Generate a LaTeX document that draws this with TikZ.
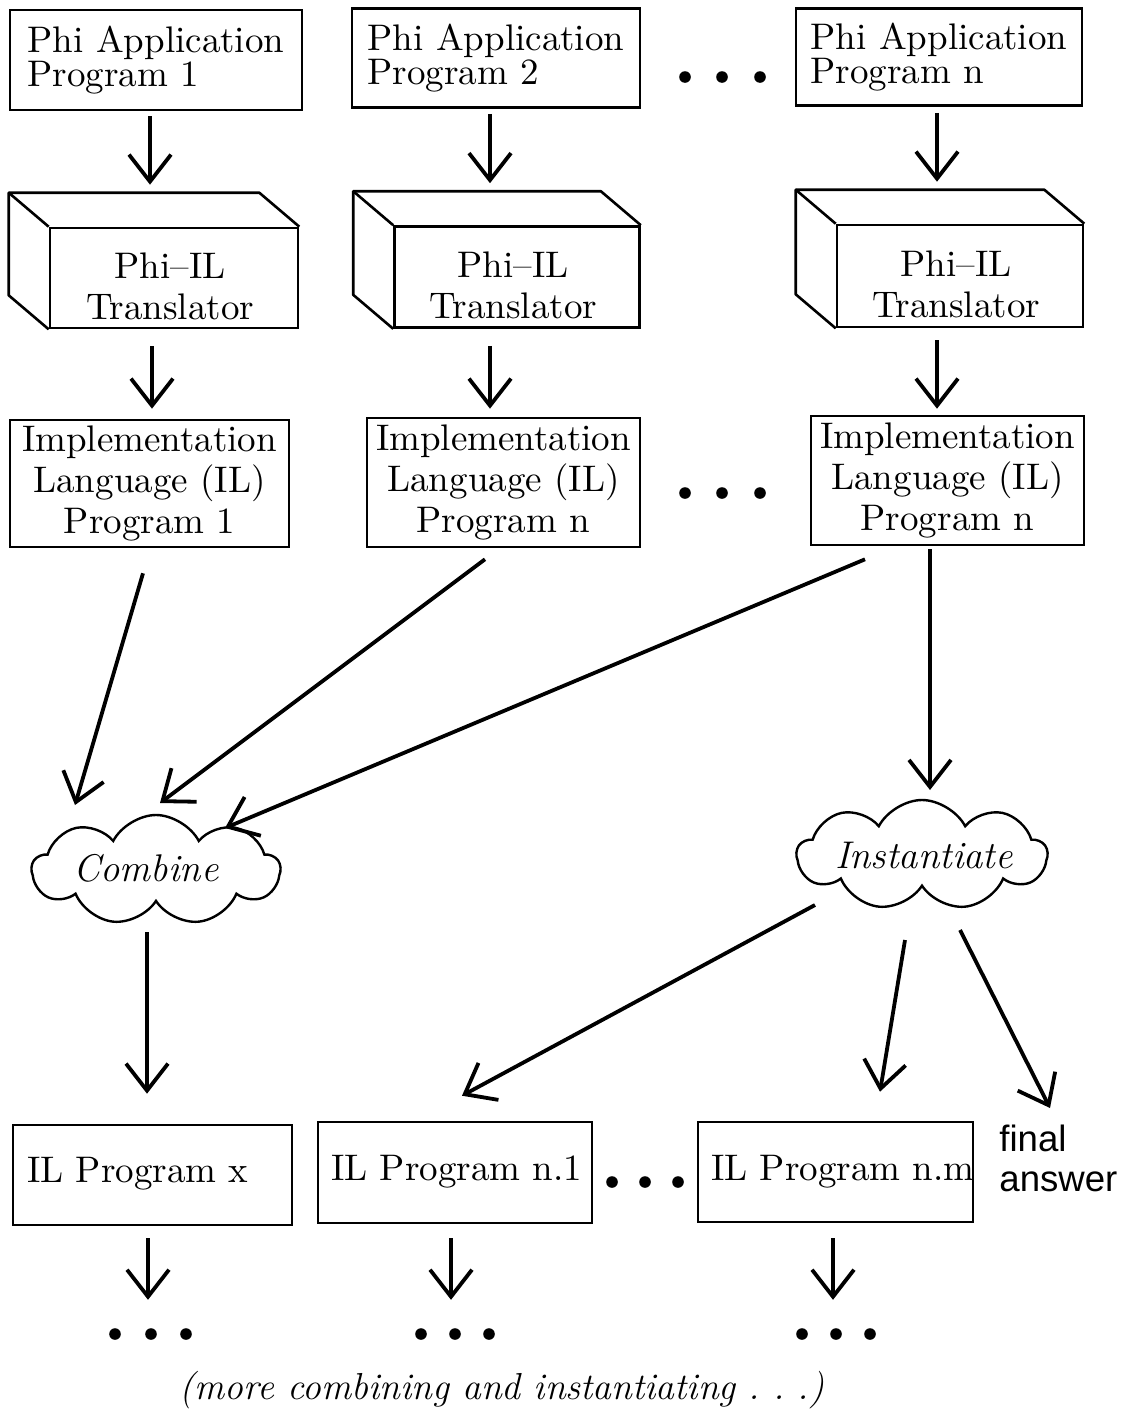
\documentclass[tikz,border=0pt]{standalone}
\usepackage{fontspec}
\setmainfont{lmroman10-regular}[Extension=.otf,ItalicFont=lmroman12-italic]
\newfontfamily\labelsans{Liberation Sans}
\usetikzlibrary{arrows.meta,shapes.symbols,calc}

\begin{document}
\begin{tikzpicture}[x=0.5pt,y=-0.5pt,
  every node/.style={font=\fontsize{18.5}{20.5}\selectfont},
  box/.style={draw,line width=1.3pt,rectangle,inner sep=0pt},
  arr/.style={line width=1.9pt,-{Straight Barb[length=13.5pt,width=21pt,line width=1.9pt]}},
  cloudy/.style={draw,line width=1.2pt,cloud,cloud puffs=9,cloud puff arc=125,aspect=2.3,inner sep=0pt},
  dotmark/.style={circle,fill,inner sep=0pt,minimum size=5.8pt},
  toptext/.style={align=left,font=\fontsize{18.5}{16}\selectfont},
  cloudtext/.style={font=\fontsize{19.3}{21}\selectfont\itshape},
  notetext/.style={font=\fontsize{18.8}{21}\selectfont\itshape},
  face/.style={line width=1.3pt,line join=round},
]
\useasboundingbox (0,0) rectangle (1130,1414);

% application programs
\node[box,toptext,minimum width=146pt,minimum height=50pt] (p1) at (156,60) {Phi Application\\Program 1};
\node[box,toptext,minimum width=144pt,minimum height=49.5pt] (p2) at (496,58) {Phi Application\\Program 2};
\node[box,toptext,minimum width=143pt,minimum height=48.5pt] (p3) at (939,57) {Phi Application\\Program n};
\node[dotmark] (td1) at (685,77) {};
\node[dotmark] (td2) at (722,77) {};
\node[dotmark] (td3) at (760,77) {};

% translators (front face as node, top and side faces drawn from its corners)
\node[box,minimum width=124pt,minimum height=50pt] (t1) at (174,278) {};
\node[box,minimum width=122.5pt,minimum height=50.5pt] (t2) at (517,277) {};
\node[box,minimum width=123pt,minimum height=51pt] (t3) at (960,276) {};
\foreach \t in {t1,t2,t3}{
  \draw[face] (\t.south west) -- ++(-40,-34) -- ($(\t.north west)+(-40,-34)$)
              -- ($(\t.north east)+(-40,-34)$) -- (\t.north east);
  \draw[face] (\t.north west) -- ++(-40,-34);
  \node[align=center] (\t l) at ($(\t)+(-4,8)$) {Phi--IL\\Translator};
}

\draw[arr] ($(p1.south)+(-6,5)$) -- ($(p1.south |- t1.north)+(-6,-42)$);
\draw[arr] ($(p2.south)+(-6,5)$) -- ($(p2.south |- t2.north)+(-6,-42)$);
\draw[arr] ($(p3.south)+(-2,6)$) -- ($(p3.south |- t3.north)+(-2,-42)$);

% implementation language programs
\node[box,align=center,minimum width=139.5pt,minimum height=63.5pt] (il1) at (149.5,483.5) {Implementation\\Language (IL)\\Program 1};
\node[box,align=center,minimum width=136.5pt,minimum height=64.5pt] (il2) at (503.5,482.5) {Implementation\\Language (IL)\\Program n};
\node[box,align=center,minimum width=136.5pt,minimum height=64.5pt] (il3) at (947.5,480.5) {Implementation\\Language (IL)\\Program n};
\node[dotmark] (md1) at (685,493) {};
\node[dotmark] (md2) at (722,493) {};
\node[dotmark] (md3) at (760,493) {};

\draw[arr] ($(il1.north |- t1.south)+(2.5,17)$) -- ($(il1.north)+(2.5,-10)$);
\draw[arr] ($(il2.north |- t2.south)+(-13.5,17)$) -- ($(il2.north)+(-13.5,-8)$);
\draw[arr] ($(il3.north |- t3.south)+(-10.5,12)$) -- ($(il3.north)+(-10.5,-6)$);

% combine / instantiate
\node[cloudy,minimum width=124pt,minimum height=55pt] (comb) at (156,870) {};
\node[cloudtext] (combt) at (146,868) {Combine};
\node[cloudy,minimum width=125pt,minimum height=55pt] (inst) at (922,855) {};
\node[cloudtext] (instt) at (924,855) {Instantiate};

\draw[arr] ($(il1.south)+(-6.5,25)$) -- ($(comb)+(-81,-65)$);
\draw[arr] ($(il2.south)+(-18.5,11)$) -- ($(comb)+(4,-67)$);
\draw[arr] ($(il3.south)+(-82.5,13)$) -- ($(comb)+(69,-42)$);
\draw[arr] ($(il3.south)+(-17.5,3)$) -- ($(inst)+(8,-65)$);

% resulting programs
\node[box,minimum width=139.5pt,minimum height=50pt] (b1) at (152.5,1175) {};
\node[box,minimum width=137pt,minimum height=50.5pt] (b2) at (455,1172.5) {};
\node[box,minimum width=137.5pt,minimum height=50pt] (b3) at (835.5,1172) {};
\node[anchor=base west,inner sep=0pt] (b1t) at ($(b1.west)+(15,7)$) {IL Program x};
\node[anchor=base west,inner sep=0pt] (b2t) at ($(b2.west)+(14,7.5)$) {IL Program n.1};
\node[anchor=base west,inner sep=0pt] (b3t) at ($(b3.west)+(14,8)$) {IL Program n.m};
\node[dotmark] (bd1) at (612,1182) {};
\node[dotmark] (bd2) at (645,1182) {};
\node[dotmark] (bd3) at (678,1182) {};
\node[anchor=north west,align=left,inner sep=0pt,font=\labelsans\fontsize{18.3}{20}\selectfont] (fa) at (999,1125) {final\\answer};

\draw[arr] ($(comb)+(-9,62)$) -- ($(b1.north)+(-5.5,-30)$);
\draw[arr] ($(inst)+(-107,50)$) -- ($(b2.north)+(7,-25)$);
\draw[arr] ($(inst)+(-17,85)$) -- ($(b3.north)+(44.5,-29)$);
\draw[arr] ($(inst)+(38,75)$) -- ($(fa.north west)+(51,-17)$);

% continuation
\node[dotmark] (d1a) at (115,1334) {};
\node[dotmark] (d1b) at (151,1334) {};
\node[dotmark] (d1c) at (186,1334) {};
\node[dotmark] (d2a) at (421,1334) {};
\node[dotmark] (d2b) at (455,1334) {};
\node[dotmark] (d2c) at (489,1334) {};
\node[dotmark] (d3a) at (802,1334) {};
\node[dotmark] (d3b) at (836,1334) {};
\node[dotmark] (d3c) at (870,1334) {};

\draw[arr] ($(b1.south)+(-4.5,12)$) -- ($(d1b.north)+(-3,-28)$);
\draw[arr] ($(b2.south)+(-4,14)$) -- ($(d2b.north)+(-4,-28)$);
\draw[arr] ($(b3.south)+(-2.5,15)$) -- ($(d3b.north)+(-3,-28)$);

\node[notetext] (more) at (502,1390) {(more combining and instantiating .\ .\ .)};
\end{tikzpicture}
\end{document}
